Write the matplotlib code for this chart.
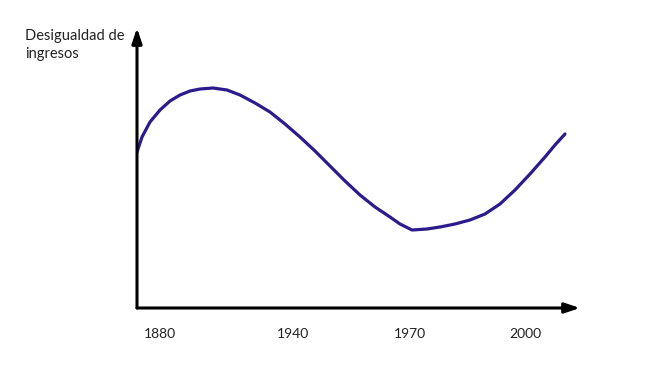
import matplotlib.pyplot as plt

# schematic curve, in axis units (x: 0..443, y: 0..280)
curve_x = [0, 5, 13, 23, 33, 43, 53, 63, 76, 90, 103, 118, 133, 148, 163, 178,
           193, 208, 223, 238, 253, 263, 275, 290, 303, 318, 333, 348, 363, 378,
           393, 408, 418, 428]
curve_y = [156, 171, 186, 198, 207, 213, 217, 219, 220, 218, 213, 205, 196, 184,
           171, 157, 142, 127, 113, 101, 91, 84, 78, 79, 81, 84, 88, 94, 104,
           118, 134, 151, 163, 174]
tick_pos = [23, 156, 273, 388]
tick_labels = ["1880", "1940", "1970", "2000"]
ylabel = "Desigualdad de\ningresos"

plt.rcParams["font.family"] = ["Lato", "DejaVu Sans"]

fig = plt.figure(figsize=(6.49, 3.72), dpi=100)
ax = fig.add_axes([137 / 649, 64 / 372, 443 / 649, 280 / 372])
ax.set_xlim(0, 443)
ax.set_ylim(0, 280)
ax.axis("off")

ax.plot(curve_x, curve_y, color="#2c1b8c", lw=2.3, solid_capstyle="round")

# axes as arrows
arrow = dict(arrowstyle="-|>,head_length=0.9,head_width=0.3", color="black", lw=2.2,
             shrinkA=0, shrinkB=0)
ax.annotate("", xy=(443, 0), xytext=(0, 0), arrowprops=arrow)
ax.annotate("", xy=(0, 280), xytext=(0, 0), arrowprops=arrow)

for p, lab in zip(tick_pos, tick_labels):
    ax.text(p, -26, lab, ha="center", va="center", fontsize=10, color="#222222")

ax.text(-112, 263, ylabel, ha="left", va="center", fontsize=10.5,
        color="#222222", linespacing=1.35)

fig.savefig("out.png", dpi=100)
